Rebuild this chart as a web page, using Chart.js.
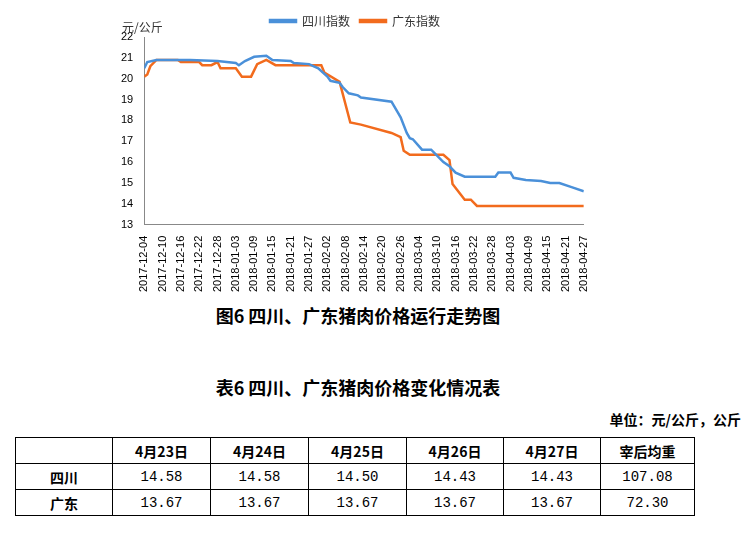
<!DOCTYPE html>
<html><head><meta charset="utf-8">
<script src="https://cdn.jsdelivr.net/npm/chart.js@4"></script>
<style>
body{margin:0;width:749px;height:542px;background:#fff;position:relative;font-family:"Noto Sans CJK SC",sans-serif;overflow:hidden}
#wrap{position:absolute;left:118px;top:5px;width:482px;height:290px}
.t{position:absolute;font-weight:bold;color:#000}
table{position:absolute;left:15px;top:437px;border-collapse:collapse;font-size:14px}
td{border:1px solid #000;height:25px;text-align:center;padding:0;font-family:"Liberation Mono","DejaVu Sans Mono",monospace}
td.h{font-family:"Noto Sans CJK SC";font-weight:bold}
</style></head><body>
<div id="wrap"><canvas id="c"></canvas></div>
<div class="t" style="left:0;width:716px;top:302px;text-align:center;font-size:18px">图6 四川、广东猪肉价格运行走势图</div>
<div class="t" style="left:0;width:716px;top:374px;text-align:center;font-size:18px">表6 四川、广东猪肉价格变化情况表</div>
<div class="t" style="right:8px;top:409px;font-size:14px">单位：元/公斤，公斤</div>
<table id="tb"></table>
<script>
const tickLabels=["2017-12-04","2017-12-10","2017-12-16","2017-12-22","2017-12-28","2018-01-03","2018-01-09","2018-01-15","2018-01-21","2018-01-27","2018-02-02","2018-02-08","2018-02-14","2018-02-20","2018-02-26","2018-03-04","2018-03-10","2018-03-16","2018-03-22","2018-03-28","2018-04-03","2018-04-09","2018-04-15","2018-04-21","2018-04-27"];
const scDays=[0,1,4,15,24,30,31,33,36,40,42,48,49,54,57,60,61,64,65,67,70,71,81,84,86,87,88,91,94,98,100,102,105,115,116,120,121,125,130,133,136,140,144];
const scVals=[20.5,20.8,20.9,20.9,20.85,20.75,20.65,20.85,21.05,21.1,20.9,20.85,20.75,20.7,20.5,20.1,19.9,19.8,19.6,19.3,19.2,19.1,18.9,18.15,17.4,17.15,17.1,16.6,16.6,16.0,15.8,15.5,15.3,15.3,15.5,15.5,15.25,15.15,15.1,15.0,15.0,14.8,14.6];
const gdDays=[0,1,2,4,11,12,18,19,22,24,25,30,32,35,37,40,43,58,59,64,67.5,71,81,84,85,87,98,100,101,105,107,109,144];
const gdVals=[20.1,20.2,20.6,20.9,20.9,20.8,20.8,20.65,20.65,20.8,20.5,20.5,20.1,20.1,20.7,20.9,20.65,20.65,20.3,19.85,17.9,17.8,17.4,17.2,16.55,16.35,16.35,16.1,14.95,14.2,14.2,13.9,13.9];
const tHead=["","4月23日","4月24日","4月25日","4月26日","4月27日","宰后均重"];
const tRows=[["四川","14.58","14.58","14.50","14.43","14.43","107.08"],["广东","13.67","13.67","13.67","13.67","13.67","72.30"]];
const widths=[96,97,97,97,96,96,93];
let h='<tr>'+tHead.map((x,i)=>`<td class="h" style="width:${widths[i]}px">${x}</td>`).join('')+'</tr>';
tRows.forEach(r=>{h+='<tr>'+r.map((x,i)=>`<td${i==0?' class="h"':''}>${x}</td>`).join('')+'</tr>';});
document.getElementById('tb').innerHTML=h;
const mk=(d,v)=>d.map((x,i)=>({x:x,y:v[i]}));
new Chart(document.getElementById('c'),{type:'line',
data:{datasets:[
{label:'四川指数',data:mk(scDays,scVals),borderColor:'#4a90d9',backgroundColor:'#4a90d9',borderWidth:2.5,pointRadius:0,tension:0},
{label:'广东指数',data:mk(gdDays,gdVals),borderColor:'#f26b1d',backgroundColor:'#f26b1d',borderWidth:2.5,pointRadius:0,tension:0}]},
options:{animation:false,responsive:true,maintainAspectRatio:false,
layout:{padding:{top:0,right:8}},
plugins:{legend:{position:'top',labels:{boxWidth:26,boxHeight:2,color:'#333',font:{size:12,family:'Noto Sans CJK SC'}}},tooltip:{enabled:false},
title:{display:false}},
scales:{x:{type:'linear',min:0,max:144,grid:{display:false},border:{color:'#888'},
ticks:{stepSize:6,autoSkip:false,maxRotation:90,minRotation:90,color:'#000',font:{size:11,family:'Liberation Sans'}},afterBuildTicks(a){},
ticks2:null},
y:{min:13,max:22,grid:{display:false},border:{color:'#888'},
ticks:{stepSize:1,color:'#000',font:{size:11,family:'Liberation Sans'}}}}},
plugins:[{id:'u',afterDraw(c){const x=c.ctx;x.save();x.font='12px "Noto Sans CJK SC"';x.fillStyle='#333';x.fillText('元/公斤',c.scales.y.left+4,22);x.restore();}}]
});
</script>
<script>
// set tick label callback
const ch=Chart.getChart('c');ch.options.scales.x.ticks.callback=v=>tickLabels[v/6];ch.update();
</script>
</body></html>
